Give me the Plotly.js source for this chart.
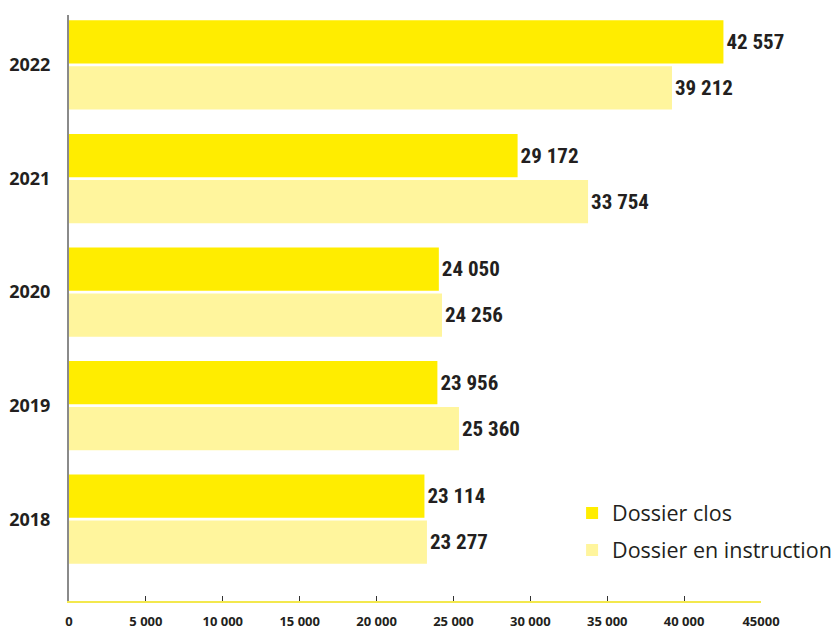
<!DOCTYPE html>
<html>
<head>
<meta charset="utf-8">
<script src="https://cdn.plot.ly/plotly-3.0.1.min.js"></script>
<style>html,body{margin:0;padding:0;background:#fff;}#chart{width:837px;height:630px;}</style>
</head>
<body>
<div id="chart"></div>
<script>
const years = ["2018", "2019", "2020", "2021", "2022"];
const closValues = [23114, 23956, 24050, 29172, 42557];
const instructionValues = [23277, 25360, 24256, 33754, 39212];
const closLabels = ["23 114", "23 956", "24 050", "29 172", "42 557"];
const instructionLabels = ["23 277", "25 360", "24 256", "33 754", "39 212"];
const xTickVals = [0, 5000, 10000, 15000, 20000, 25000, 30000, 35000, 40000, 45000];
const xTickText = ["0", "5 000", "10 000", "15 000", "20 000", "25 000", "30 000", "35 000", "40 000", "45000"];

const labelFont = {family: "Roboto Condensed, Open Sans Condensed, sans-serif", size: 21, color: "#231f20", weight: 700};

const traces = [
  {
    type: "bar", orientation: "h", name: "Dossier en instruction", legendgroup: "b", legendrank: 2,
    y: years, x: instructionValues, text: instructionLabels,
    textposition: "outside", textfont: labelFont, cliponaxis: false,
    marker: {color: "#fff59d"}, hoverinfo: "skip"
  },
  {
    type: "bar", orientation: "h", name: "Dossier clos", legendgroup: "a", legendrank: 1,
    y: years, x: closValues, text: closLabels,
    textposition: "outside", textfont: labelFont, cliponaxis: false,
    marker: {color: "#ffed00"}, hoverinfo: "skip"
  }
];

const layout = {
  width: 837, height: 630,
  margin: {l: 69, r: 76, t: 15, b: 29, autoexpand: false},
  paper_bgcolor: "#fff", plot_bgcolor: "#fff",
  barmode: "group", bargap: 0.19, bargroupgap: 0.06,
  showlegend: true,
  legend: {
    x: 0.727, y: 0.185, xanchor: "left", yanchor: "top",
    traceorder: "grouped", tracegroupgap: 6,
    font: {family: "Open Sans, Noto Sans, sans-serif", size: 21.5, color: "#231f20"},
    bgcolor: "rgba(0,0,0,0)"
  },
  xaxis: {
    range: [0, 45000], tickmode: "array", tickvals: xTickVals, ticktext: xTickText,
    showgrid: false, zeroline: false,
    showline: true, linecolor: "#f3e84e", linewidth: 2,
    ticks: "inside", ticklen: 5, tickcolor: "#333", tickwidth: 1,
    ticklabelstandoff: 7,
    tickfont: {family: "Open Sans, sans-serif", size: 13, color: "#231f20", weight: 700},
    fixedrange: true
  },
  yaxis: {
    type: "category", categoryorder: "array", categoryarray: years,
    range: [-0.72, 4.44],
    showgrid: false, zeroline: false,
    showline: true, linecolor: "#8a8a8a", linewidth: 2,
    ticks: "", ticklabelstandoff: 13,
    tickfont: {family: "Open Sans, sans-serif", size: 18, color: "#231f20", weight: 700},
    fixedrange: true
  }
};

Plotly.newPlot("chart", traces, layout, {displayModeBar: false, staticPlot: true});
</script>
</body>
</html>
